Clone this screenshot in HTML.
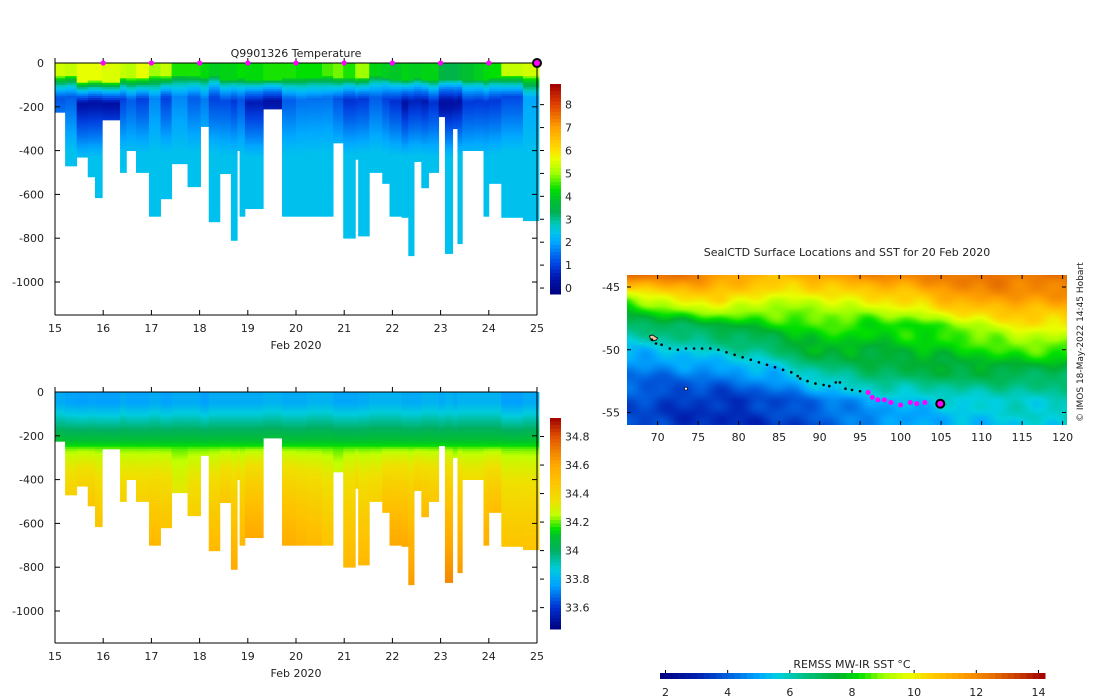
<!DOCTYPE html>
<html><head><meta charset="utf-8">
<style>
html,body{margin:0;padding:0;background:#fff;}
svg{display:block;font-family:"DejaVu Sans","Liberation Sans",sans-serif;}
text{fill:#222;}
</style></head>
<body>
<svg id="root" width="1100" height="700" viewBox="0 0 1100 700" xmlns="http://www.w3.org/2000/svg">
  <g id="temp"></g>
  <g id="sal"></g>
  <g id="map"></g>
  <foreignObject x="627" y="275" width="440" height="150">
    <canvas id="sstc" width="440" height="150" xmlns="http://www.w3.org/1999/xhtml" style="display:block"></canvas>
  </foreignObject>
  <g id="mapover"></g>
  <g id="sstbar"></g>
</svg>
<script>
// ---- profile data ----
const starts = [15.00,15.21,15.45,15.68,15.83,15.98,16.35,16.48,16.68,16.95,17.19,17.42,17.75,18.02,18.19,18.42,18.65,18.78,18.83,18.94,19.32,19.71,20.00,20.23,20.54,20.77,20.98,21.23,21.29,21.52,21.79,21.94,22.19,22.33,22.45,22.60,22.75,22.96,23.09,23.25,23.35,23.45,23.69,23.89,24.00,24.26,24.71];
const endTime = 25.04;
const maxDepth = [225,470,430,520,615,260,500,400,500,700,620,460,565,290,725,505,810,400,700,665,210,700,700,700,700,365,800,440,790,500,550,700,705,880,450,570,500,245,870,300,825,400,400,700,550,705,720];
const surfT = [5.4,5.3,5.6,5.6,5.6,5.5,5.3,5.2,5.6,5.0,5.3,4.4,4.4,4.2,4.0,4.1,4.1,4.3,4.3,4.2,4.4,4.4,4.3,4.3,4.6,4.8,4.4,5.0,5.0,4.1,4.0,3.9,4.1,4.0,4.0,4.1,4.1,3.5,3.4,3.4,3.6,3.8,4.0,4.2,4.3,5.3,5.4];
const minT = [1.2,1.3,0.3,0.3,0.3,0.3,1.0,1.3,1.0,1.7,1.0,1.7,1.3,1.6,1.0,1.1,0.9,1.2,1.2,0.5,0.3,1.3,1.5,1.5,1.5,1.2,0.8,0.9,0.9,1.3,1.0,0.8,0.3,0.6,0.6,0.5,0.8,0.2,0.2,0.3,0.3,0.9,0.9,0.9,0.9,1.1,2.0];
const mixedLayer = [60,55,85,80,80,85,65,70,65,60,60,55,60,65,60,75,75,70,70,80,75,70,70,65,60,65,70,70,65,60,65,75,80,75,70,75,80,80,80,80,75,80,75,80,70,55,60];
const deepS = [34.45,34.45,34.45,34.5,34.5,34.3,34.45,34.4,34.45,34.55,34.5,34.35,34.45,34.3,34.55,34.5,34.6,34.45,34.55,34.62,34.2,34.6,34.57,34.55,34.5,34.3,34.55,34.45,34.55,34.45,34.55,34.62,34.62,34.65,34.5,34.55,34.5,34.3,34.7,34.3,34.65,34.4,34.4,34.6,34.55,34.5,34.5];
const surfS = [33.78,33.76,33.75,33.76,33.75,33.75,33.78,33.76,33.76,33.78,33.76,33.78,33.78,33.75,33.78,33.78,33.78,33.78,33.78,33.78,33.8,33.78,33.78,33.8,33.8,33.77,33.77,33.77,33.78,33.8,33.8,33.8,33.78,33.78,33.78,33.8,33.8,33.78,33.8,33.78,33.8,33.8,33.8,33.8,33.8,33.75,33.78];
const surfDays = [16,17,18,19,20,21,22,23,24];
const xTicks = [15,16,17,18,19,20,21,22,23,24,25];
const yTicks = [0,-200,-400,-600,-800,-1000];
const tTicks = [0,1,2,3,4,5,6,7,8];
const sTicks = [33.6,33.8,34,34.2,34.4,34.6,34.8];
const sstTicks = [2,4,6,8,10,12,14];
// track
const trackLon = [69.3,69.8,70.5,71.5,72.5,73.5,74.5,75.5,76.5,77.5,78.5,79.5,80.5,81.5,82.5,83.5,84.5,85.5,86.5,87.3,87.6,88.5,89.5,90.5,91.2,92.0,92.5,93.2,94.0,95.0,96.0,96.5,97.2,98.0,98.8,100.0,101.2,102.0,103.0];
const trackLat = [-49.2,-49.5,-49.6,-49.9,-50.0,-49.9,-49.9,-49.9,-49.9,-50.0,-50.2,-50.4,-50.6,-50.8,-51.0,-51.2,-51.4,-51.6,-51.8,-52.1,-52.3,-52.5,-52.7,-52.8,-52.9,-52.6,-52.6,-53.1,-53.2,-53.3,-53.4,-53.8,-54.0,-54.0,-54.2,-54.4,-54.2,-54.3,-54.2];
const magentaFrom = 30;
const lastLon = 104.9, lastLat = -54.3;
const lonTicks = [70,75,80,85,90,95,100,105,110,115,120];
const latTicks = [-45,-50,-55];

const NS='http://www.w3.org/2000/svg';
function mk(parent,tag,attrs,txt){const e=document.createElementNS(NS,tag);for(const k in attrs)e.setAttribute(k,attrs[k]);if(txt!==undefined)e.textContent=txt;parent.appendChild(e);return e;}
function hex(h){return [parseInt(h.slice(1,3),16),parseInt(h.slice(3,5),16),parseInt(h.slice(5,7),16)];}
function cmap(stops){const s=stops.map(a=>[a[0],hex(a[1])]);return v=>{if(v<=s[0][0])return s[0][1];for(let i=1;i<s.length;i++){if(v<=s[i][0]){const t=(v-s[i-1][0])/(s[i][0]-s[i-1][0]);const a=s[i-1][1],b=s[i][1];return a.map((x,j)=>Math.round(x+(b[j]-x)*t));}}return s[s.length-1][1];};}
const rgb=c=>`rgb(${c[0]},${c[1]},${c[2]})`;
const tC=cmap([[-0.3,'#00007f'],[0.5,'#0018b0'],[1,'#0040e0'],[1.5,'#0070f0'],[2,'#00a8ff'],[2.4,'#00c4ec'],[2.8,'#00c8b8'],[3.3,'#00b050'],[3.8,'#00c030'],[4.3,'#00e000'],[5,'#a0ff00'],[5.6,'#e8ff00'],[6,'#ffe000'],[7,'#ffa000'],[8,'#e04000'],[8.9,'#a00000']]);
const sC=cmap([[33.45,'#00007f'],[33.6,'#0030d0'],[33.75,'#00a0ff'],[33.87,'#00ccdd'],[34.0,'#00b060'],[34.1,'#00c030'],[34.15,'#00e000'],[34.25,'#c0ff00'],[34.35,'#f0e000'],[34.5,'#ffc000'],[34.6,'#ffa800'],[34.7,'#f08000'],[34.8,'#e05000'],[34.93,'#a00000']]);
const sstC=cmap([[1.8,'#00007f'],[3,'#0020b0'],[4,'#0060e0'],[5,'#00a8ff'],[5.6,'#00d0e0'],[6.5,'#00c080'],[7.5,'#00b030'],[8.2,'#00e000'],[9,'#a0ff00'],[9.8,'#e8ff00'],[10.5,'#ffd000'],[11.5,'#ffa000'],[12.5,'#e87000'],[13.5,'#c03000'],[14.2,'#a00000']]);

function tempAt(i,z){const ml=mixedLayer[i];if(z<ml)return surfT[i];const zc=ml+100;if(z<zc){const t=(z-ml)/(zc-ml);return surfT[i]+(minT[i]-surfT[i])*Math.pow(t,0.6);}const t=Math.min(1,(z-zc)/250);return minT[i]+(2.35-minT[i])*t;}
function salAt(i,z){if(z<50)return surfS[i];if(z<250){return surfS[i]+(34.15-surfS[i])*(z-50)/200;}const t=Math.min(1,(z-250)/(maxDepth[i]-250+50));return 34.15+(deepS[i]-34.15)*Math.sqrt(t);}

function section(g,y0,ymul,valFn,col,cbarTop,cbarBot,cbLo,cbHi,cbTicks,fmt,title,bottomAxisY){
  const X=d=>55+(d-15)*48.2, Y=z=>y0+z*ymul;
  for(let i=0;i<starts.length;i++){
    const x0=X(starts[i]),x1=X(i+1<starts.length?starts[i+1]:endTime);
    for(let z=0;z<maxDepth[i];z+=10){
      const h=Math.min(10,maxDepth[i]-z);
      const r=mk(g,'rect',{x:x0.toFixed(2),y:Y(z).toFixed(2),width:(x1-x0+0.4).toFixed(2),height:(h*ymul+0.4).toFixed(2),fill:rgb(col(valFn(i,z+5)))});
      
      
    }
  }
  mk(g,'line',{x1:55,y1:y0,x2:537,y2:y0,stroke:'#000','stroke-width':1});
  mk(g,'line',{x1:55,y1:y0-5,x2:55,y2:bottomAxisY,stroke:'#000'});
  mk(g,'line',{x1:537,y1:y0-5,x2:537,y2:bottomAxisY,stroke:'#000'});
  mk(g,'line',{x1:55,y1:bottomAxisY,x2:537,y2:bottomAxisY,stroke:'#000'});
  xTicks.forEach(d=>{const x=X(d);mk(g,'line',{x1:x,y1:bottomAxisY,x2:x,y2:bottomAxisY-5,stroke:'#000'});mk(g,'line',{x1:x,y1:y0-5,x2:x,y2:y0,stroke:'#000'});
    const t=mk(g,'text',{x:x,y:bottomAxisY+17,'font-size':11,'text-anchor':'middle'},String(d));});
  yTicks.forEach(v=>{const y=Y(-v);mk(g,'line',{x1:55,y1:y,x2:60,y2:y,stroke:'#000'});mk(g,'line',{x1:532,y1:y,x2:537,y2:y,stroke:'#000'});
    const t=mk(g,'text',{x:44,y:y+4,'font-size':11,'text-anchor':'end'},String(v));});
  const xl=mk(g,'text',{x:296,y:bottomAxisY+34,'font-size':11,'text-anchor':'middle'},'Feb 2020');
  
  if(title){const tt=mk(g,'text',{x:296,y:57,'font-size':11,'text-anchor':'middle'},title);}
  const H=cbarBot-cbarTop,n=60;
  for(let k=0;k<n;k++){const v=cbHi-(cbHi-cbLo)*(k+0.5)/n;mk(g,'rect',{x:550,y:(cbarTop+k*H/n).toFixed(2),width:11,height:(H/n+0.5).toFixed(2),fill:rgb(col(v))});}
  cbTicks.forEach(v=>{const y=cbarBot-(v-cbLo)/(cbHi-cbLo)*H;mk(g,'line',{x1:540,y1:y,x2:544,y2:y,stroke:'#000'});
    const t=mk(g,'text',{x:565,y:y+4,'font-size':11},fmt(v));});
  return X;
}
const tg=document.getElementById('temp');
const Xt=section(tg,63,0.219,tempAt,tC,84,294,-0.26,8.9,tTicks,v=>String(v),'Q9901326  Temperature',315);
surfDays.forEach(d=>{const c=mk(tg,'circle',{cx:Xt(d),cy:63,r:2.6,fill:'#ff00ff'});});
mk(tg,'circle',{cx:Xt(25),cy:63,r:4,fill:'#ff00ff',stroke:'#000','stroke-width':2});
const sg=document.getElementById('sal');
section(sg,392,0.219,salAt,sC,418,629,33.45,34.93,sTicks,v=>String(+v.toFixed(1)),null,643);

// ---- map ----
const MX=lon=>657.6+(lon-70)*8.1, MY=lat=>287-(lat+45)*12.55;
const gridLon=[66,72,78,84,90,96,102,108,114,121];
const gridLat=[-44,-46,-48,-50,-52,-54,-56];
const sstGrid=[
 [12.5,12.5,11.5,11.0,11.5,12.0,12.0,12.5,12.5,12.5],
 [8.5,10.0,10.5,9.5,9.5,10.0,10.5,11.5,11.5,11.5],
 [6.8,7.0,7.5,8.0,8.5,8.2,8.3,9.0,10.0,10.0],
 [5.2,5.6,6.0,6.5,7.8,7.5,7.8,8.0,8.5,8.5],
 [4.2,4.2,4.5,5.0,6.0,6.8,7.0,7.2,7.0,6.8],
 [3.8,3.4,3.2,3.6,4.3,5.0,5.3,5.6,5.8,6.0],
 [3.7,3.3,3.2,3.3,3.7,4.5,5.0,5.3,5.5,5.6]];
(function(){
  const cv=document.getElementById('sstc'),ctx=cv.getContext('2d');const img=ctx.createImageData(440,150);
  function interp(lon,lat){let i=0;while(i<gridLon.length-2&&lon>gridLon[i+1])i++;let j=0;while(j<gridLat.length-2&&lat<gridLat[j+1])j++;
    const tx=Math.max(0,Math.min(1,(lon-gridLon[i])/(gridLon[i+1]-gridLon[i]))),ty=Math.max(0,Math.min(1,(lat-gridLat[j])/(gridLat[j+1]-gridLat[j])));
    const a=sstGrid[j][i],b=sstGrid[j][i+1],c=sstGrid[j+1][i],d=sstGrid[j+1][i+1];return (a*(1-tx)+b*tx)*(1-ty)+(c*(1-tx)+d*tx)*ty;}
  for(let py=0;py<150;py++)for(let px=0;px<440;px++){
    const lon=70+(627+px-657.6)/8.1,lat=-45-(275+py-287)/12.55;
    let v=interp(lon,lat)+0.25*Math.sin(lon*0.53+lat*1.7)*Math.cos(lat*0.9-lon*0.31)+0.2*Math.sin(lon*1.37+2)*Math.sin(lat*2.3+1);
    const c=sstC(v),k=(py*440+px)*4;img.data[k]=c[0];img.data[k+1]=c[1];img.data[k+2]=c[2];img.data[k+3]=255;}
  ctx.putImageData(img,0,0);
})();
const mo=document.getElementById('mapover');
const mt=mk(mo,'text',{x:847,y:256,'font-size':11,'text-anchor':'middle'},'SealCTD Surface Locations and SST for 20 Feb 2020');

lonTicks.forEach(l=>{const x=MX(l);mk(mo,'line',{x1:x,y1:425,x2:x,y2:421,stroke:'#000'});mk(mo,'line',{x1:x,y1:275,x2:x,y2:279,stroke:'#000'});
  const t=mk(mo,'text',{x:x,y:441,'font-size':11,'text-anchor':'middle'},String(l));});
latTicks.forEach(l=>{const y=MY(l);mk(mo,'line',{x1:627,y1:y,x2:631,y2:y,stroke:'#000'});mk(mo,'line',{x1:1062,y1:y,x2:1066,y2:y,stroke:'#000'});
  const t=mk(mo,'text',{x:620,y:y+4,'font-size':11,'text-anchor':'end'},String(l));});
mk(mo,'path',{d:`M${MX(69)} ${MY(-48.9)} l3 -1 l3 2 l2 1 l-1 2 l-4 1 l-2 -2 z`,fill:'#f0c8a0',stroke:'#000','stroke-width':0.8});
mk(mo,'circle',{cx:MX(73.5),cy:MY(-53.1),r:1.5,fill:'#fff',stroke:'#000','stroke-width':0.6});
for(let i=0;i<trackLon.length;i++){
  const m=i>=magentaFrom;
  const c=mk(mo,'circle',{cx:MX(trackLon[i]).toFixed(1),cy:MY(trackLat[i]).toFixed(1),r:m?2.5:1.3,fill:m?'#ff00ff':'#000'});
  
  
}
mk(mo,'circle',{cx:MX(lastLon),cy:MY(lastLat),r:4,fill:'#ff00ff',stroke:'#000','stroke-width':2});
const rt=mk(mo,'text',{x:1083,y:422,'font-size':9,transform:'rotate(-90 1083 422)'},'© IMOS 18-May-2022 14:45 Hobart');


const sb=document.getElementById('sstbar');
const SX=v=>665.5+(v-2)*31.08;
for(let k=0;k<62;k++){const v=1.8+(14.2-1.8)*(k+0.5)/62;mk(sb,'rect',{x:(660+k*385/62).toFixed(2),y:673,width:(385/62+0.5).toFixed(2),height:6,fill:rgb(sstC(v))});}
sstTicks.forEach(v=>{const x=SX(v);mk(sb,'line',{x1:x,y1:670,x2:x,y2:673,stroke:'#000'});
  const t=mk(sb,'text',{x:x,y:696,'font-size':11,'text-anchor':'middle'},String(v));});
const st=mk(sb,'text',{x:852,y:668,'font-size':11,'text-anchor':'middle'},'REMSS MW-IR SST °C');

</script>
</body></html>
